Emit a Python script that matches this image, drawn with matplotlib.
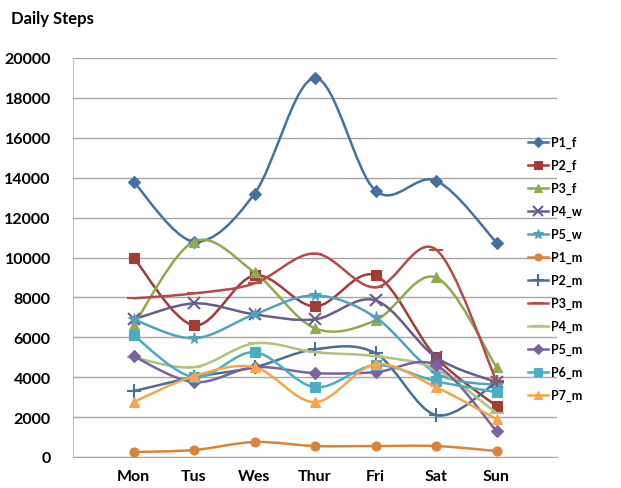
import numpy as np
import matplotlib
matplotlib.use('Agg')
import matplotlib.pyplot as plt
from matplotlib.path import Path
from matplotlib.patches import PathPatch
from matplotlib.lines import Line2D

days = ['Mon', 'Tus', 'Wes', 'Thur', 'Fri', 'Sat', 'Sun']

p1_f = [13800, 10800, 13200, 19000, 13350, 13850, 10750]
p2_f = [10000, 6600, 9100, 7550, 9100, 5000, 2550]
p3_f = [6600, 10800, 9250, 6450, 6850, 9000, 4500]
p4_w = [6900, 7700, 7150, 6900, 7850, 5000, 3750]
p5_w = [6900, 5950, 7150, 8100, 7000, 4200, 3600]
p1_m = [250, 350, 750, 550, 550, 550, 300]
p2_m = [3300, 4000, 4500, 5400, 5200, 2100, 3750]
p3_m = [7950, 8200, 8700, 10200, 8500, 10400, 3800]
p4_m = [5000, 4500, 5700, 5250, 5050, 4400, 2200]
p5_m = [5050, 3750, 4500, 4200, 4250, 4600, 1300]
p6_m = [6100, 4000, 5250, 3500, 4600, 3800, 3250]
p7_m = [2750, 4050, 4500, 2750, 4650, 3500, 1900]

series = [
    ('P1_f', p1_f, '#46709F', 'D', 6.5),
    ('P2_f', p2_f, '#A33B38', 's', 7.5),
    ('P3_f', p3_f, '#8FAA4F', '^', 7.5),
    ('P4_w', p4_w, '#6A5C8A', 'x', 8.5),
    ('P5_w', p5_w, '#4FA3BD', '*', 8.5),
    ('P1_m', p1_m, '#D9843A', 'o', 6.5),
    ('P2_m', p2_m, '#4B6E96', '+', 9.5),
    ('P3_m', p3_m, '#B34B48', '_', 9.5),
    ('P4_m', p4_m, '#AFC47E', '_', 9.5),
    ('P5_m', p5_m, '#7B62A0', 'D', 6.5),
    ('P6_m', p6_m, '#4BACC6', 's', 7.5),
    ('P7_m', p7_m, '#F5A54A', '^', 7.5),
]


def smooth_path(xs, ys):
    # Excel-like smoothed line: cubic bezier segments through the points
    pts = np.column_stack([xs, ys]).astype(float)
    n = len(pts)
    verts = [pts[0]]
    codes = [Path.MOVETO]
    for i in range(n - 1):
        p0 = pts[max(i - 1, 0)]
        p1 = pts[i]
        p2 = pts[i + 1]
        p3 = pts[min(i + 2, n - 1)]
        c1 = p1 + (p2 - p0) / 6
        c2 = p2 - (p3 - p1) / 6
        verts += [c1, c2, p2]
        codes += [Path.CURVE4] * 3
    return Path(verts, codes)


fig = plt.figure(figsize=(6.21, 4.89), dpi=100)
ax = fig.add_axes([73 / 621, 31 / 489, 484 / 621, 399 / 489])

x = np.arange(len(days))
handles = []
for k, (name, vals, col, mk, ms) in enumerate(series):
    patch = PathPatch(smooth_path(x, vals), facecolor='none', edgecolor=col,
                      lw=1.8, zorder=3 + k * 0.1)
    ax.add_patch(patch)
    mew = 1.5 if mk in ('x', '+', '_') else 0.8
    ax.plot(x, vals, linestyle='none', marker=mk, ms=ms, color=col,
            markeredgecolor=col, mew=mew, zorder=3.05 + k * 0.1)
    handles.append(Line2D([], [], color=col, lw=1.8, marker=mk, ms=ms - 1.5,
                          mew=mew, label=name))

ax.set_xlim(-1, 7)
ax.set_ylim(0, 20000)
ax.set_yticks(np.arange(0, 20001, 2000))
ax.set_xticks(x)
ax.set_xticklabels(days)
ax.tick_params(length=0)
ax.tick_params(axis='y', pad=16)
ax.tick_params(axis='x', pad=9)
for lab in ax.get_xticklabels() + ax.get_yticklabels():
    lab.set_fontfamily('Lato')
    lab.set_fontweight('bold')
    lab.set_fontsize(11.5)
ax.grid(axis='y', color='#A6A6A6', lw=1)
ax.set_axisbelow(True)
for s in ['top', 'right']:
    ax.spines[s].set_visible(False)
ax.spines['left'].set_color('#BFBFBF')
ax.spines['bottom'].set_color('#A6A6A6')

fig.text(11 / 621, 1 - 19 / 489, 'Daily Steps', fontfamily='Lato',
         fontweight='bold', fontsize=12, va='center', ha='left')

fig.legend(handles=handles, loc='upper left',
           bbox_to_anchor=(522 / 621, 1 - 131 / 489), frameon=False,
           prop={'family': 'Lato', 'weight': 'bold', 'size': 9},
           handlelength=1.6, handletextpad=0.2, labelspacing=0.86,
           borderpad=0)

fig.savefig('out.png', dpi=100)
